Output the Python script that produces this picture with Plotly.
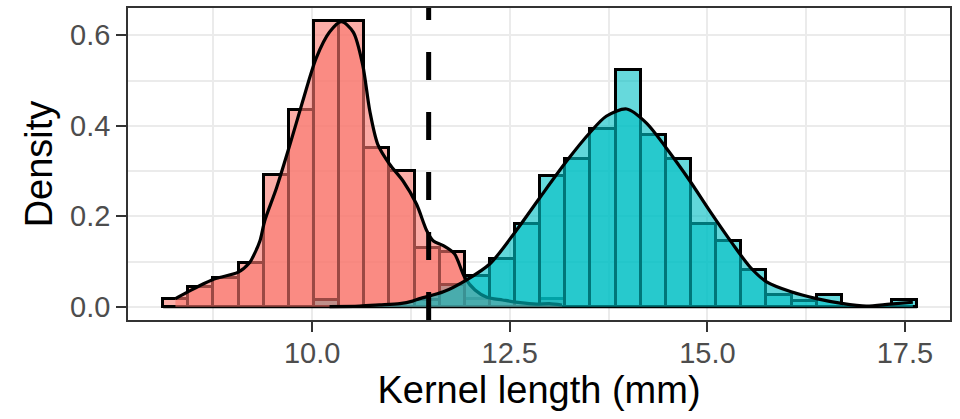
import numpy as np
import plotly.graph_objects as go

# Histogram bins shared by both groups
bin_start = 8.115
bin_width = 0.318
n_bins = 30

# Density per bin (histogram, y = density)
red_hist = [0.018, 0.043, 0.064, 0.097, 0.292, 0.434, 0.632, 0.632, 0.350, 0.299,
            0.129, 0.121, 0.018, 0.0, 0.0, 0.018, 0.0, 0.0, 0.0, 0.0,
            0.0, 0.0, 0.0, 0.0, 0.0, 0.0, 0.0, 0.0, 0.0, 0.0]
teal_hist = [0.0, 0.0, 0.0, 0.0, 0.0, 0.0, 0.016, 0.0, 0.0, 0.0,
             0.016, 0.048, 0.068, 0.106, 0.184, 0.288, 0.327, 0.393, 0.524, 0.380,
             0.327, 0.184, 0.146, 0.081, 0.026, 0.013, 0.026, 0.0, 0.0, 0.015]

# Kernel density estimates
red_kde_x = [8.27, 8.45, 8.64, 8.79, 9.06, 9.21, 9.25, 9.34, 9.40, 9.55, 9.72, 9.88,
             10.05, 10.22, 10.37, 10.52, 10.64, 10.73, 10.83, 10.98, 11.15, 11.32,
             11.45, 11.53, 11.66, 11.80, 11.93, 12.06, 12.21, 12.41, 12.63, 12.84,
             13.00, 13.16]
red_kde_y = [0.018, 0.035, 0.052, 0.063, 0.076, 0.098, 0.110, 0.146, 0.190, 0.263,
             0.359, 0.454, 0.549, 0.607, 0.630, 0.607, 0.534, 0.432, 0.359, 0.315,
             0.278, 0.227, 0.168, 0.146, 0.135, 0.117, 0.065, 0.037, 0.021, 0.015,
             0.009, 0.006, 0.007, 0.004]
teal_kde_x = [10.22, 10.60, 10.85, 11.11, 11.27, 11.36, 11.66, 11.95, 12.25, 12.58,
              12.88, 13.22, 13.51, 13.72, 13.98, 14.23, 14.48, 14.78, 15.03, 15.32,
              15.54, 15.75, 16.06, 16.38, 16.70, 17.01, 17.31, 17.60]
teal_kde_y = [0.0005, 0.0015, 0.004, 0.007, 0.0125, 0.018, 0.033, 0.059, 0.095, 0.168,
              0.241, 0.322, 0.384, 0.421, 0.437, 0.406, 0.351, 0.278, 0.212, 0.139,
              0.088, 0.055, 0.033, 0.018, 0.0075, 0.0015, 0.006, 0.010]

threshold = 11.474

x_ticks = [10.0, 12.5, 15.0, 17.5]
y_ticks = [0.0, 0.2, 0.4, 0.6]

RED = "248,118,109"
TEAL = "0,191,196"
FONT = "Liberation Sans, Arial, Helvetica, sans-serif"
LW = 3.0

edges = bin_start + bin_width * np.arange(n_bins + 1)
centers = (edges[:-1] + edges[1:]) / 2

fig = go.Figure()

for hist, rgb in [(red_hist, RED), (teal_hist, TEAL)]:
    h = np.array(hist)
    keep = h > 0
    fig.add_trace(go.Bar(
        x=centers[keep], y=h[keep], width=bin_width,
        marker=dict(color=f"rgba({rgb},0.6)", line=dict(color="black", width=LW)),
        showlegend=False, hoverinfo="skip",
    ))

# bottom edge of the empty bins
fig.add_trace(go.Scatter(
    x=[edges[0], edges[-1]], y=[0, 0], mode="lines",
    line=dict(color="black", width=LW), showlegend=False, hoverinfo="skip",
))

for kx, ky, rgb in [(red_kde_x, red_kde_y, RED), (teal_kde_x, teal_kde_y, TEAL)]:
    fig.add_trace(go.Scatter(
        x=kx, y=ky, mode="lines", fill="tozeroy",
        fillcolor=f"rgba({rgb},0.62)",
        line=dict(color="black", width=3.2, shape="spline", smoothing=0.8),
        showlegend=False, hoverinfo="skip",
    ))

fig.add_shape(type="line", xref="x", yref="paper", x0=threshold, x1=threshold,
              y0=0, y1=1, line=dict(color="black", width=5, dash="28px,32px"))

axis_common = dict(
    showline=True, linecolor="#333333", linewidth=1.5, mirror=True,
    ticks="outside", ticklen=10, tickwidth=2, tickcolor="#333333",
    showgrid=True, gridcolor="#EBEBEB", gridwidth=2, zeroline=False,
    tickfont=dict(family=FONT, size=29, color="#4D4D4D"),
)

fig.update_layout(
    width=960, height=419,
    margin=dict(l=128, r=10, t=6, b=99),
    paper_bgcolor="white", plot_bgcolor="white",
    barmode="overlay", bargap=0,
    xaxis=dict(
        range=[7.67, 18.07], tickvals=x_ticks, ticktext=[f"{v:.1f}" for v in x_ticks],
        minor=dict(dtick=1.25, tick0=8.75, showgrid=True, gridcolor="#EBEBEB", gridwidth=1.6, ticks=""),
        ticklabelstandoff=-4,
        title=dict(text="Kernel length (mm)", font=dict(family=FONT, size=38, color="black"), standoff=6),
        **axis_common,
    ),
    yaxis=dict(
        range=[-0.0292, 0.6602], tickvals=y_ticks, ticktext=[f"{v:.1f}" for v in y_ticks],
        minor=dict(dtick=0.1, tick0=0.1, showgrid=True, gridcolor="#EBEBEB", gridwidth=1.6, ticks=""),
        title=dict(text="Density", font=dict(family=FONT, size=38, color="black"), standoff=6),
        **axis_common,
    ),
)

fig.write_html("out.html")
